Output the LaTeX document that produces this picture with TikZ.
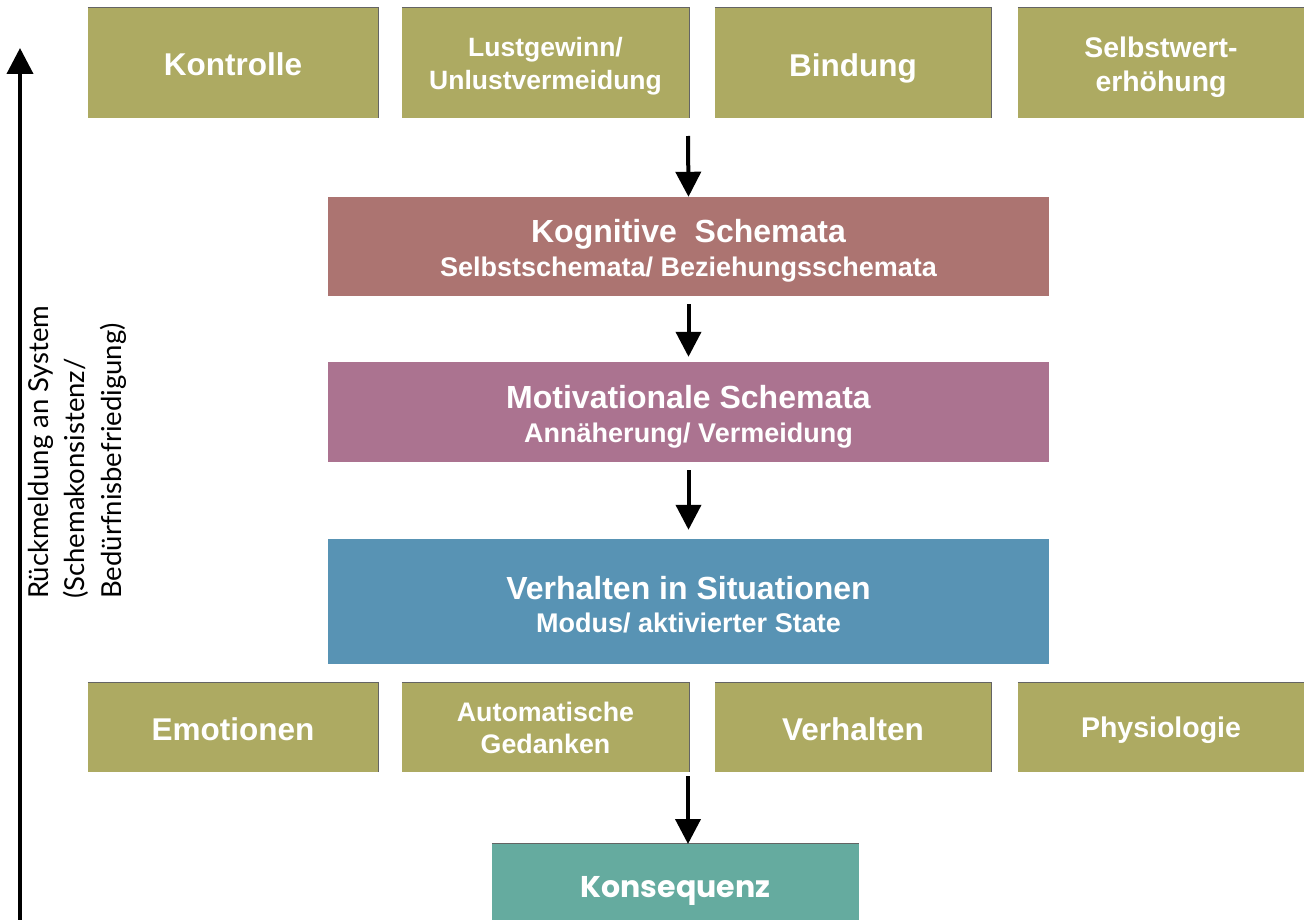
\documentclass[tikz,border=0pt]{standalone}
\usepackage{fontspec}
\setmainfont{Liberation Sans}
\newfontfamily\sidefont{Lato}
\newfontfamily\konsfont{Poppins}
\usetikzlibrary{arrows.meta}
\definecolor{boxolive}{RGB}{173,170,98}
\definecolor{boxkog}{RGB}{172,116,113}
\definecolor{boxmot}{RGB}{171,115,144}
\definecolor{boxverh}{RGB}{88,147,180}
\definecolor{boxkons}{RGB}{101,171,159}
\definecolor{edgegray}{RGB}{100,100,100}
\newcommand{\titlefont}{\fontsize{32}{34}\selectfont\bfseries}
\newcommand{\lift}[1]{\rule{0pt}{#1}}
\begin{document}
\begin{tikzpicture}[x=1pt,y=-1pt,
  basebox/.style={fill=#1, draw=none, inner sep=0pt, text=white, align=center},
  obox/.style={basebox=boxolive, font=\fontsize{31.5}{34}\selectfont\bfseries},
  osmall/.style={basebox=boxolive, font=\fontsize{#1}{33}\selectfont\bfseries},
  topbox/.style={minimum width=#1, minimum height=110pt},
  botbox/.style={minimum width=#1, minimum height=89pt},
  bigbox/.style={basebox=#1, minimum width=721pt, font=\fontsize{27}{34}\selectfont\bfseries},
  arr/.style={line width=4pt, -{Triangle[width=25pt,length=25pt]}},
  sidearr/.style={line width=4pt, -{Triangle[width=26pt,length=26pt]}},
  rim/.style={draw=edgegray, line width=1.2pt}
]
\useasboundingbox (0,0) rectangle (1304,920);
\fill[white] (0,0) rectangle (1304,920);

% top row
\node[obox, topbox=290pt, text height=26pt, text depth=0pt] (kontrolle) at (233,63) {Kontrolle};
\node[osmall=26.5, topbox=287pt] (lust) at (545.5,63) {\lift{26pt}Lustgewinn/\\Unlustvermeidung};
\node[obox, topbox=276pt, text height=27pt, text depth=0pt] (bindung) at (853,63) {Bindung};
\node[osmall=28.4, topbox=286pt, font=\fontsize{28.4}{34}\selectfont\bfseries] (selbstwert) at (1161,63) {\lift{30pt}Selbstwert-\\erhöhung};

% middle boxes
\node[bigbox=boxkog, minimum height=99pt] (kog) at (688.5,246.5)
  {{\titlefont\lift{31pt}Kognitive\ \ Schemata}\\
   Selbstschemata/ Beziehungsschemata};
\node[bigbox=boxmot, minimum height=100pt] (mot) at (688.5,412)
  {{\titlefont\lift{32pt}Motivationale Schemata}\\
   Annäherung/ Vermeidung};
\node[bigbox=boxverh, minimum height=125pt] (verh) at (688.5,601.5)
  {{\titlefont\lift{30pt}Verhalten in Situationen}\\[-1pt]
   Modus/ aktivierter State};

% bottom row
\node[obox, botbox=290pt] (emo) at (233,727.5) {\lift{26pt}Emotionen};
\node[osmall=26.8, botbox=287pt, font=\fontsize{26.8}{32}\selectfont\bfseries] (auto) at (545.5,727.5) {Automatische\\Gedanken};
\node[obox, botbox=276pt] (verhalten) at (853,727.5) {\lift{26pt}Verhalten};
\node[osmall=28.5, botbox=286pt] (phys) at (1161,727.5) {\lift{27pt}Physiologie};

% consequence
\node[basebox=boxkons, minimum width=367pt, minimum height=76pt,
      text height=30pt, text depth=0pt,
      font=\konsfont\fontsize{30}{34}\selectfont\bfseries] (kons) at (675.5,882)
  {Konsequenz};

% thin rims
\foreach \n in {kontrolle,lust,bindung,selbstwert,emo,auto,verhalten,phys}
  \draw[rim] (\n.north west) -- (\n.north east) -- (\n.south east);
\draw[rim] (kons.north west) -- (kons.north east);

% arrows
\coordinate (a1) at (688,136);
\draw[arr] (a1) -- (kog.north);
\draw[arr, shorten <=8pt, shorten >=5pt] (kog.south) -- (mot.north);
\draw[arr, shorten <=8pt, shorten >=9pt] (mot.south) -- (verh.north);
\coordinate (a4) at (688,776);
\coordinate (a4e) at (688,844);
\draw[arr] (a4) -- (a4e);

% side arrow
\coordinate (sb) at (20,922);
\coordinate (st) at (20,48);
\draw[sidearr] (sb) -- (st);
\node[rotate=90, anchor=north west, inner sep=0pt, align=left,
      font=\sidefont\fontsize{27.5}{36.5}\selectfont] (side) at (28,599)
  {Rückmeldung an System\\(Schemakonsistenz/\\Bedürfnisbefriedigung)};
\end{tikzpicture}
\end{document}
